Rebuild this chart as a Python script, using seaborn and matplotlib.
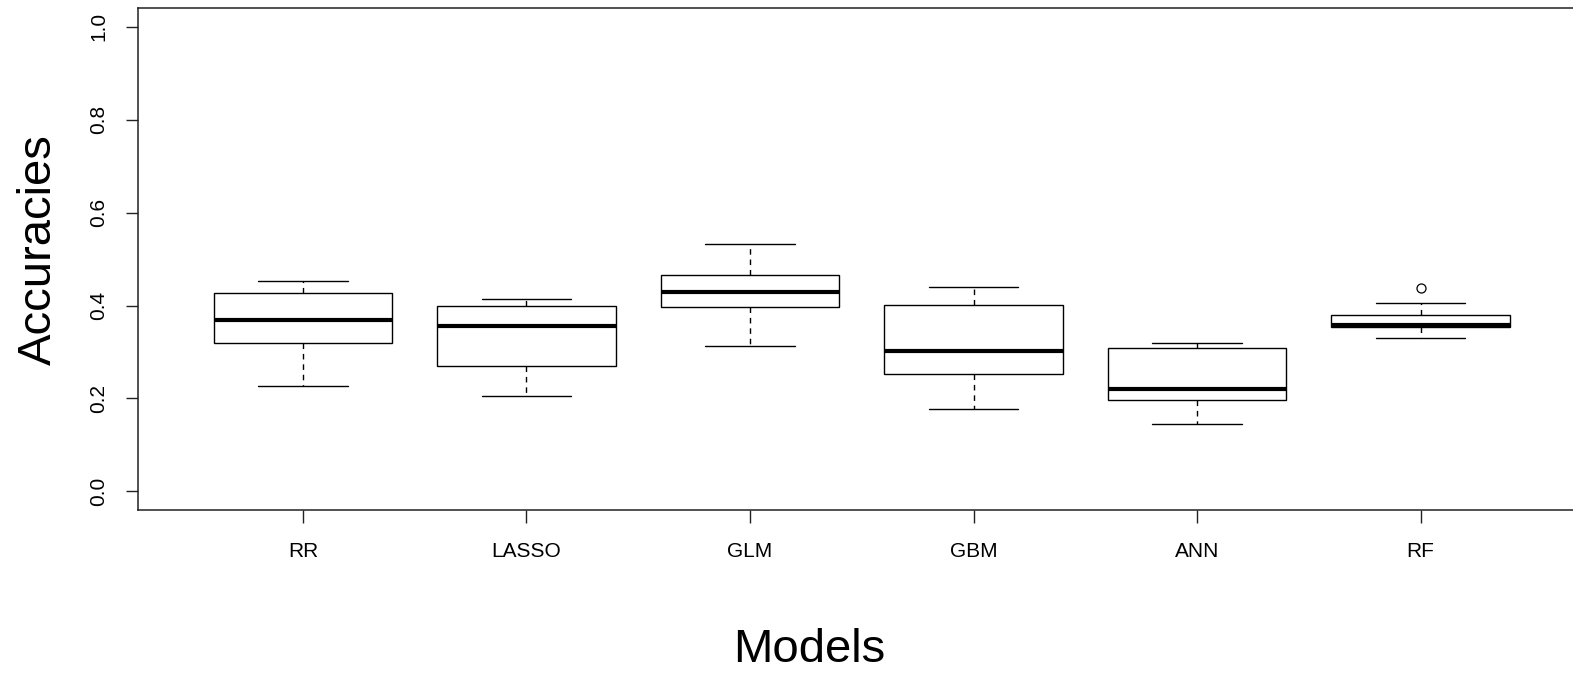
import matplotlib
matplotlib.use("Agg")
import matplotlib.pyplot as plt
import seaborn as sns
import pandas as pd

# box statistics (R-style boxplot)
models = ["RR", "LASSO", "GLM", "GBM", "ANN", "RF"]
whisker_low = [0.227, 0.206, 0.313, 0.178, 0.146, 0.330]
q1 = [0.319, 0.270, 0.396, 0.253, 0.197, 0.354]
median = [0.368, 0.356, 0.429, 0.302, 0.221, 0.358]
q3 = [0.426, 0.399, 0.466, 0.402, 0.308, 0.380]
whisker_high = [0.452, 0.414, 0.533, 0.440, 0.319, 0.406]
outliers = {"RF": [0.438]}
y_ticks = [0.0, 0.2, 0.4, 0.6, 0.8, 1.0]


def build_sample(lo, a, m, b, hi, out):
    # 9 values: sorted positions 2, 4, 6 give q1, median, q3 with linear percentiles
    n_mid = 3 - len(out)
    return [lo, a, a] + [m] * n_mid + [b, b, hi] + list(out)


rows = []
for i, name in enumerate(models):
    sample = build_sample(whisker_low[i], q1[i], median[i], q3[i], whisker_high[i], outliers.get(name, []))
    rows += [(name, v) for v in sample]
df = pd.DataFrame(rows, columns=["model", "accuracy"])

sns.set_style("white")
plt.rcParams["font.family"] = ["Liberation Sans", "DejaVu Sans"]

fig = plt.figure(figsize=(15.73, 6.84), dpi=100)
ax = fig.add_axes([137.5 / 1573, 1 - 510 / 684, (1586 - 137.5) / 1573, (510 - 8.2) / 684])

sns.boxplot(
    data=df, x="model", y="accuracy", order=models, ax=ax,
    color="white", linecolor="black", saturation=1, width=0.8, linewidth=1.0,
    medianprops=dict(linewidth=3.0, color="black"),
    whiskerprops=dict(linestyle=(0, (4, 3.5)), color="black"),
    capprops=dict(color="black"),
    flierprops=dict(marker="o", markersize=6.5, markerfacecolor="none",
                    markeredgecolor="black", markeredgewidth=0.9),
)

ax.set_xlim(-0.74, 5.74)
ax.set_ylim(-0.04, 1.04)
ax.set_yticks(y_ticks)
ax.set_yticklabels([f"{t:.1f}" for t in y_ticks], rotation=90, va="center")

for side in ["left", "bottom", "top"]:
    ax.spines[side].set_visible(True)
    ax.spines[side].set_color("#222222")
    ax.spines[side].set_linewidth(1.1)
ax.spines["right"].set_visible(False)

ax.tick_params(axis="both", which="both", length=9, width=1, color="#222222",
               labelsize=15, labelcolor="black", left=True, bottom=True)
ax.tick_params(axis="y", pad=12)
ax.tick_params(axis="x", pad=14)

ax.set_xlabel("Models", fontsize=34, color="black")
ax.set_ylabel("Accuracies", fontsize=34, color="black")
ax.xaxis.set_label_coords(0.464, -0.235)
ax.yaxis.set_label_coords(-0.053, 0.52)

fig.savefig("out.png", dpi=100)
